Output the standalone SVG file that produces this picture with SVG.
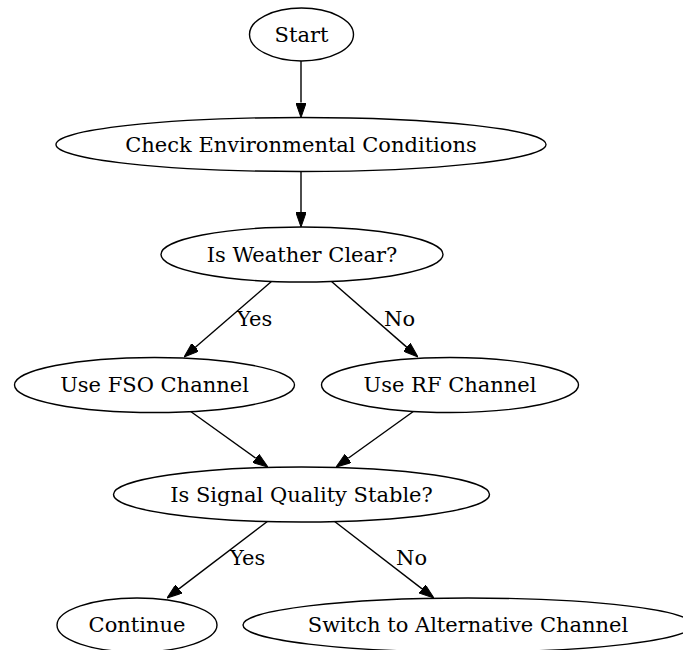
<svg xmlns="http://www.w3.org/2000/svg" width="683" height="650" viewBox="0 0 683 650">
  <style>
    .node ellipse { fill: #ffffff; stroke: #000000; stroke-width: 1.4; }
    .node text { font-family: "DejaVu Serif", "Liberation Serif", serif; font-size: 21px; text-anchor: middle; fill: #000000; }
    .edge line { stroke: #000000; stroke-width: 1.4; fill: none; }
    .lbl { font-family: "DejaVu Serif", "Liberation Serif", serif; font-size: 21px; fill: #000000; }
  </style>
  <defs>
    <marker id="arrow" viewBox="0 0 15 10.5" refX="0" refY="5.25" markerWidth="15" markerHeight="10.5" markerUnits="userSpaceOnUse" orient="auto">
      <path d="M0,0 L15,5.25 L0,10.5 Z" fill="#000000" stroke="#000000" stroke-width="1"/>
    </marker>
  </defs>
  <rect width="683" height="650" fill="#ffffff"/>

  <g id="edges" class="edge">
    <line x1="301" y1="61" x2="301" y2="102.5" marker-end="url(#arrow)"/>
    <line x1="301" y1="172" x2="301" y2="212" marker-end="url(#arrow)"/>
    <line x1="272" y1="281" x2="195.4" y2="347.2" marker-end="url(#arrow)"/>
    <line x1="331" y1="281" x2="406.7" y2="347.1" marker-end="url(#arrow)"/>
    <line x1="190" y1="411" x2="255.8" y2="458.3" marker-end="url(#arrow)"/>
    <line x1="414" y1="411" x2="348.2" y2="458.3" marker-end="url(#arrow)"/>
    <line x1="268" y1="521" x2="178.9" y2="588.9" marker-end="url(#arrow)"/>
    <line x1="334" y1="521" x2="422.1" y2="588.9" marker-end="url(#arrow)"/>
    <text class="lbl" x="237" y="326">Yes</text>
    <text class="lbl" x="384" y="326">No</text>
    <text class="lbl" x="230" y="565">Yes</text>
    <text class="lbl" x="396" y="565">No</text>
  </g>

  <g id="start" class="node">
    <ellipse cx="301.5" cy="34.5" rx="52" ry="26.5"/>
    <text x="301.5" y="41.5">Start</text>
  </g>
  <g id="check_env" class="node">
    <ellipse cx="301" cy="144.5" rx="245" ry="27"/>
    <text x="301" y="151.5">Check Environmental Conditions</text>
  </g>
  <g id="weather_clear" class="node">
    <ellipse cx="302" cy="254.5" rx="141" ry="27.5"/>
    <text x="302" y="261.5">Is Weather Clear?</text>
  </g>
  <g id="use_fso" class="node">
    <ellipse cx="154.5" cy="385" rx="140" ry="27.5"/>
    <text x="154.5" y="392">Use FSO Channel</text>
  </g>
  <g id="use_rf" class="node">
    <ellipse cx="450" cy="385" rx="128.5" ry="27.5"/>
    <text x="450" y="392">Use RF Channel</text>
  </g>
  <g id="signal_stable" class="node">
    <ellipse cx="301.5" cy="494.5" rx="188" ry="27.5"/>
    <text x="301.5" y="501.5">Is Signal Quality Stable?</text>
  </g>
  <g id="continue" class="node">
    <ellipse cx="137" cy="625" rx="80" ry="27"/>
    <text x="137" y="632">Continue</text>
  </g>
  <g id="switch_alt" class="node">
    <ellipse cx="468" cy="625" rx="225" ry="27"/>
    <text x="468" y="632">Switch to Alternative Channel</text>
  </g>
</svg>
